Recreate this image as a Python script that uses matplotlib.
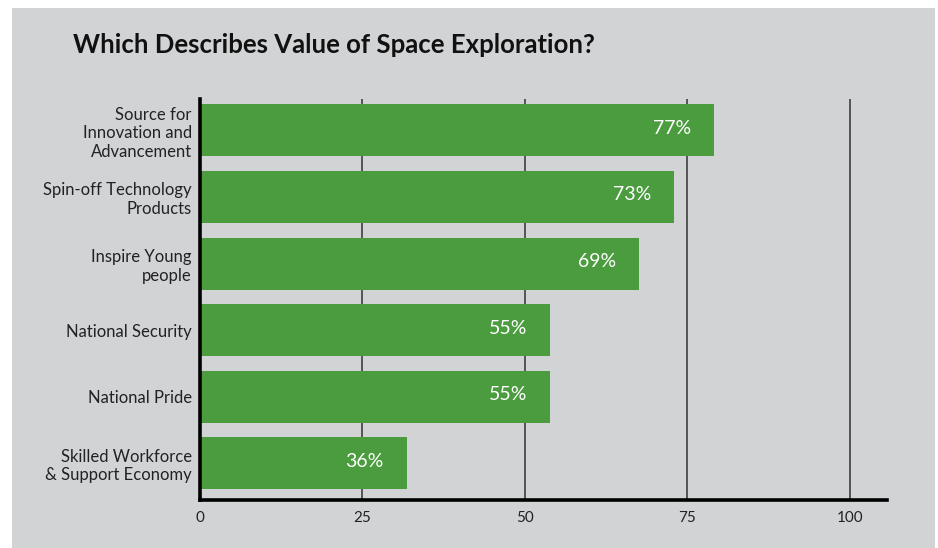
import numpy as np
import matplotlib.pyplot as plt
from matplotlib.patches import Rectangle

categories = ['Source for\nInnovation and\nAdvancement',
              'Spin-off Technology\nProducts',
              'Inspire Young\npeople',
              'National Security',
              'National Pride',
              'Skilled Workforce\n& Support Economy']
# bar lengths as drawn in the picture (they do not quite follow the printed labels)
bar_lengths = [79.1, 73.0, 67.6, 53.9, 53.9, 31.8]
pct_labels = ['77%', '73%', '69%', '55%', '55%', '36%']
x_ticks = [0, 25, 50, 75, 100]

bg = '#d2d3d5'
green = '#4a9c3e'

plt.rcParams['font.family'] = ['Lato', 'DejaVu Sans']

fig = plt.figure(figsize=(9.38, 5.48), dpi=100)
fig.patch.set_facecolor('white')
fig.add_artist(Rectangle((12 / 938, 0), 923 / 938, 540 / 548,
                         transform=fig.transFigure, facecolor=bg,
                         edgecolor='none', zorder=0))

ax = fig.add_axes([200 / 938, 1 - 500 / 548, 687 / 938, 401 / 548])
ax.set_facecolor('none')

y = np.arange(len(categories))[::-1]
ax.barh(y, bar_lengths, height=0.78, color=green, zorder=3)

for yi, v, lab in zip(y, bar_lengths, pct_labels):
    ax.annotate(lab, (v, yi), xytext=(-23, 2), textcoords='offset pixels',
                ha='right', va='center', color='white', fontsize=14)

for t in x_ticks[1:]:
    ax.axvline(t, color='#4a4a4a', lw=1.3, zorder=1)

ax.set_xlim(0, 105.7)
ax.set_ylim(-0.55, 5.47)
ax.set_xticks(x_ticks)
ax.set_yticks(y)
ax.set_yticklabels(categories, fontsize=12, color='#222222', linespacing=1.2)
ax.tick_params(axis='x', length=0, labelsize=11, pad=8, colors='#222222')
ax.tick_params(axis='y', length=0, pad=6)

for s in ['top', 'right']:
    ax.spines[s].set_visible(False)
ax.spines['left'].set_linewidth(2.6)
ax.spines['bottom'].set_linewidth(2.6)
ax.spines['left'].set_zorder(4)
ax.spines['bottom'].set_zorder(4)

fig.text(73 / 938, 1 - 53 / 548, 'Which Describes Value of Space Exploration?',
         fontsize=18.5, fontweight='bold', color='#111111', ha='left',
         va='baseline')

plt.savefig('out.png', dpi=100)
